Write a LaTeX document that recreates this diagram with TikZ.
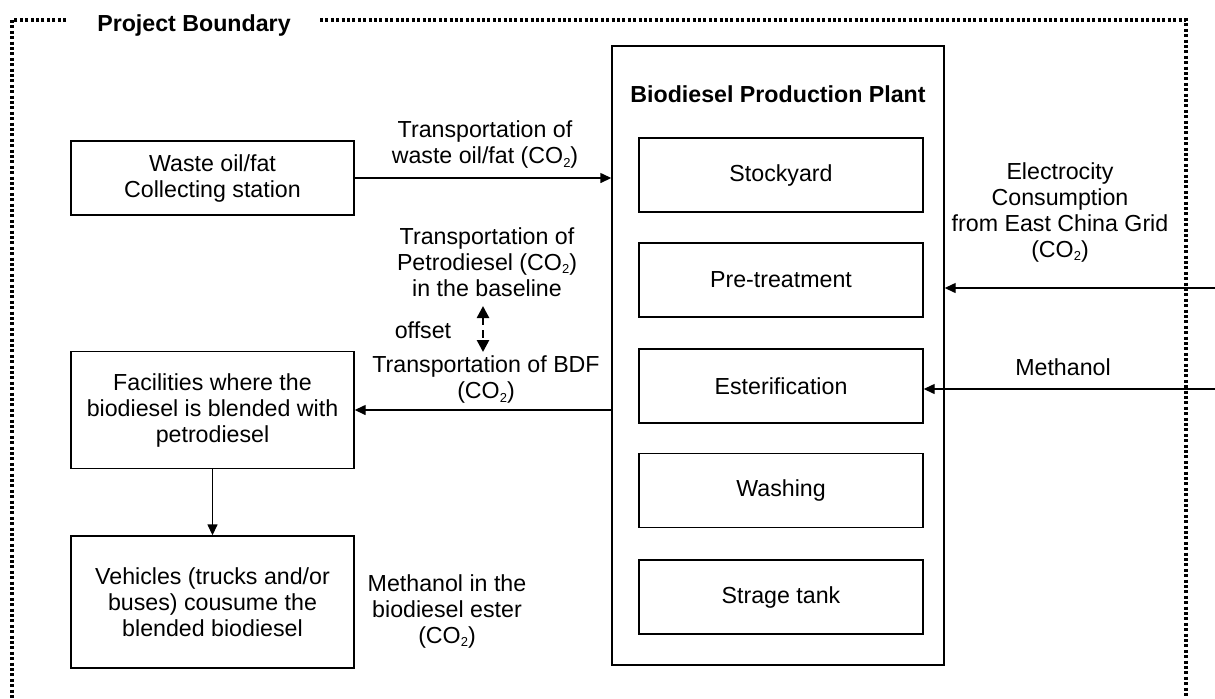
\documentclass[tikz,border=0pt]{standalone}
\usepackage{fontspec}
\setmainfont{Liberation Sans}
\usetikzlibrary{arrows.meta}
\newcommand{\cotwo}{CO\raisebox{-0.3ex}{\fontsize{6.5}{8}\selectfont 2}}
\begin{document}
\begin{tikzpicture}[x=0.5pt,y=-0.5pt,
  every node/.style={font=\fontsize{11.6}{13}\selectfont},
  box/.style={draw,line width=0.7pt,inner sep=0pt,align=center},
  lab/.style={align=center,inner sep=0pt},
  arr/.style={line width=0.7pt,-{Triangle[length=5.5pt,width=5pt]}},
  bnd/.style={line width=1.6pt,dash pattern=on 1.5pt off 1.2pt}]
\useasboundingbox (0,0) rectangle (1215,698);
% boundary
\coordinate (b1) at (66,20);
\coordinate (b2) at (12,20);
\coordinate (b3) at (12,698);
\coordinate (b4) at (320,20);
\coordinate (b5) at (1186,20);
\coordinate (b6) at (1186,698);
\draw[bnd] (b1) -- (b2) -- (b3);
\draw[bnd] (b4) -- (b5) -- (b6);
\node[font=\fontsize{11.6}{13}\selectfont\bfseries] (pb) at (194,25) {Project Boundary};
% plant
\node[box,minimum width=332*0.5pt,minimum height=619*0.5pt] (plant) at (778,355.5) {};
\node[font=\fontsize{11.6}{13}\selectfont\bfseries] (ptitle) at (778,94) {Biodiesel Production Plant};
\tikzset{inner/.style={box,minimum width=284*0.5pt,minimum height=74*0.5pt}}
\node[inner] (stock) at (781,175) {Stockyard};
\node[inner] (pre) at (781,280) {Pre-treatment};
\node[inner] (est) at (781,386) {Esterification};
\node[inner] (wash) at (781,490.5) {Washing};
\node[inner] (tank) at (781,597) {Strage tank};
% left boxes
\node[box,minimum width=283*0.5pt,minimum height=74*0.5pt] (waste) at (212.5,178) {Waste oil/fat\\Collecting station};
\node[box,minimum width=283*0.5pt,minimum height=117*0.5pt] (fac) at (212.5,410) {Facilities where the\\biodiesel is blended with\\petrodiesel};
\node[box,minimum width=283*0.5pt,minimum height=132*0.5pt] (veh) at (212.5,602) {Vehicles (trucks and/or\\buses) cousume the\\blended biodiesel};
% labels
\node[lab] (t1) at (485,144.5) {Transportation of\\waste oil/fat (\cotwo)};
\node[lab] (t2) at (487,262) {Transportation of\\Petrodiesel (\cotwo)\\in the baseline};
\node[lab] (off) at (423,330) {offset};
\node[lab] (t3) at (486,379.5) {Transportation of BDF\\(\cotwo)};
\node[lab] (elec) at (1060,212) {Electrocity\\Consumption\\from East China Grid\\(\cotwo)};
\node[lab] (meth) at (1063,367) {Methanol};
\node[lab] (mest) at (447,611) {Methanol in the\\biodiesel ester\\(\cotwo)};
% connectors
\draw[arr] (waste.east) -- (waste.east -| plant.west);
\draw[arr] (fac.east -| plant.west) -- (fac.east);
\draw[arr] (fac.south) -- (veh.north);
\coordinate (es) at (1215,288);
\coordinate (ms) at (1215,389);
\draw[arr] (es) -- (es -| plant.east);
\draw[arr] (ms) -- (ms -| est.east);
\coordinate (d1) at (483,306);
\coordinate (d2) at (483,352);
\draw[line width=1.3pt,dash pattern=on 4pt off 2.5pt,{Triangle[length=6pt,width=6pt]}-{Triangle[length=6pt,width=6pt]}] (d1) -- (d2);
\end{tikzpicture}
\end{document}
